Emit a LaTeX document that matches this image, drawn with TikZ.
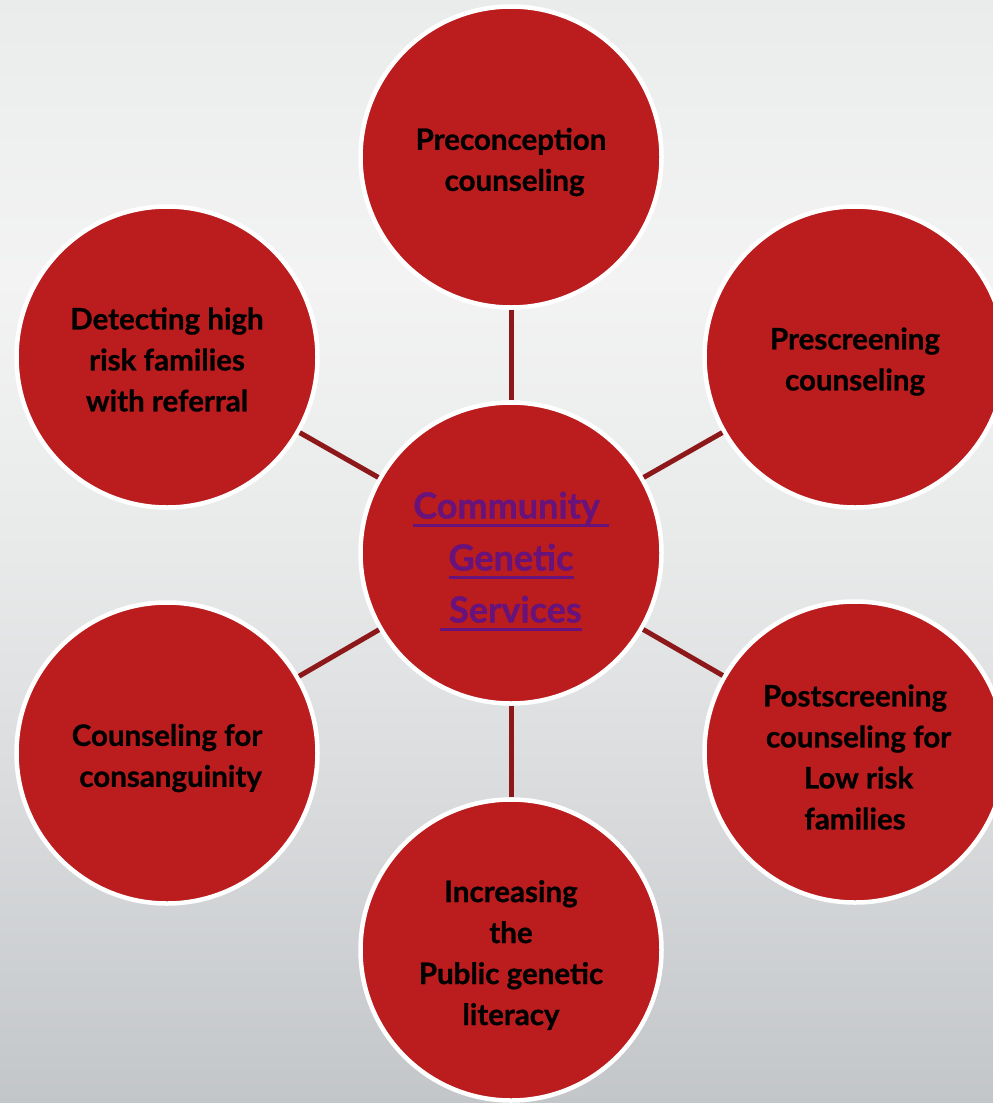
\documentclass[tikz,border=0pt]{standalone}
\usepackage{fontspec}
\setmainfont{Lato}[BoldFeatures={FakeBold=0.8}]
\usetikzlibrary{calc}

\definecolor{bubblered}{RGB}{187,28,30}
\definecolor{linkred}{RGB}{140,24,26}
\definecolor{titlepurple}{RGB}{104,18,124}

% soft grey backdrop, light near the top, darker towards the bottom
\pgfdeclareverticalshading{backdrop}{100bp}{%
  rgb(0bp)=(0.765,0.776,0.788);
  rgb(25bp)=(0.765,0.776,0.788);
  rgb(37.5bp)=(0.843,0.851,0.859);
  rgb(50bp)=(0.910,0.918,0.918);
  rgb(62.5bp)=(0.953,0.953,0.953);
  rgb(75bp)=(0.918,0.925,0.925);
  rgb(100bp)=(0.918,0.925,0.925)}

% underlined word for the hub title
\newcommand\hubline[1]{%
  \setbox0=\hbox{#1}%
  \rlap{\color{titlepurple}\rule[-8pt]{\wd0}{2.2pt}}\box0}
% extra room above the first line, to sit the text a little lower
\newcommand\lowerby[1]{\rule{0pt}{#1}}

\tikzset{
  bubble/.style={circle, fill=bubblered, draw=white, line width=4.5pt,
    minimum size=301pt, inner sep=0pt, align=center,
    font=\fontsize{29.5}{41}\selectfont\bfseries},
  hub/.style={bubble, text=titlepurple,
    font=\fontsize{36}{52}\selectfont\bfseries},
  link/.style={draw=linkred, line width=5pt}
}

\begin{document}
\begin{tikzpicture}[x=1pt,y=-1pt]
  \useasboundingbox (0,0) rectangle (993,1103);
  \fill[shading=backdrop] (0,0) rectangle (993,1103);

  % hub
  \node[hub] (hub) at (511,553)
    {\lowerby{43pt}\hubline{Community\ }\\ \hubline{Genetic}\\ \hubline{\ Services}};

  % surrounding topics
  \node[bubble] (pre)  at (511,157) {\lowerby{32pt}Preconception\\ \ counseling};
  \node[bubble] (scr)  at (855,357) {\lowerby{31pt}Prescreening\\ counseling};
  \node[bubble] (post) at (855,752) {\lowerby{32pt}Postscreening\\ \ counseling for\\ \ Low risk\\ families};
  \node[bubble] (lit)  at (511,950) {\lowerby{32pt}Increasing\\ the\\ Public genetic\\ literacy};
  \node[bubble] (cons) at (167,753) {\lowerby{32pt}Counseling for\\ \ consanguinity};
  \node[bubble] (risk) at (167,357) {\lowerby{27pt}Detecting high\\ risk families\\ with referral};

  % spokes
  \foreach \n in {pre,scr,post,lit,cons,risk}
    \draw[link] (hub) -- (\n);
\end{tikzpicture}
\end{document}
